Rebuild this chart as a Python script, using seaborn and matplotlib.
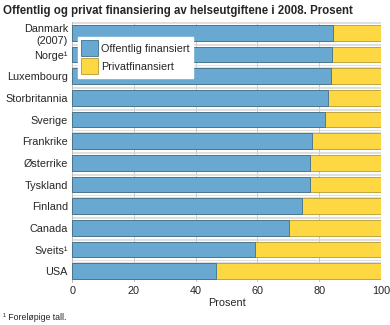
import matplotlib
matplotlib.use("Agg")
import matplotlib.pyplot as plt
import seaborn as sns
import pandas as pd

countries = ["Danmark\n(2007)", "Norge\u00b9", "Luxembourg", "Storbritannia", "Sverige",
             "Frankrike", "Østerrike", "Tyskland", "Finland", "Canada", "Sveits\u00b9", "USA"]
offentlig = [84.5, 84.2, 83.8, 82.7, 82.0, 77.8, 76.9, 76.9, 74.3, 70.1, 59.1, 46.5]
privat = [100 - v for v in offentlig]
xticks = [0, 20, 40, 60, 80, 100]

df = pd.DataFrame({"land": countries, "offentlig": offentlig, "privat": privat})
df["total"] = df["offentlig"] + df["privat"]

sns.set_theme(style="white")
plt.rcParams["font.family"] = ["Liberation Sans", "DejaVu Sans"]

fig = plt.figure(figsize=(3.9, 3.25), dpi=100)
ax = fig.add_axes([0.185, 0.132, 0.792, 0.8])

blue = "#69a9d1"
yellow = "#fdd842"
sns.barplot(data=df, y="land", x="total", color=yellow, orient="h", width=0.72, saturation=1,
            edgecolor="#b59a2e", linewidth=0.6, ax=ax, label="Privatfinansiert", zorder=3)
sns.barplot(data=df, y="land", x="offentlig", color=blue, orient="h", width=0.72, saturation=1,
            edgecolor="#3d6f90", linewidth=0.6, ax=ax, label="Offentlig finansiert", zorder=3)

ax.set_xlim(0, 100)
ax.set_ylim(len(countries) - 0.5, -0.5)
ax.set_xticks(xticks)
ax.set_xticklabels([str(t) for t in xticks], fontsize=7.8)
ax.tick_params(axis="y", labelsize=7.8, length=0, pad=3)
ax.tick_params(axis="x", length=0, pad=3)
ax.set_xlabel("Prosent", fontsize=7.8, labelpad=1)
ax.set_ylabel("")
for v in xticks[1:-1]:
    ax.axvline(v, color="#c8c8c8", lw=0.7, zorder=1)
for i in range(len(countries) + 1):
    ax.axhline(i - 0.5, color="#d9d9d9", lw=0.6, zorder=1)
    ax.axhline(i - 0.5 + 0.06, color="#d9d9d9", lw=0.6, zorder=1)
for s in ["top", "right"]:
    ax.spines[s].set_visible(False)
ax.spines["left"].set_color("#bbbbbb")
ax.spines["left"].set_linewidth(0.7)
ax.spines["bottom"].set_visible(False)

h, l = ax.get_legend_handles_labels()
order = [l.index("Offentlig finansiert"), l.index("Privatfinansiert")]
leg = ax.legend([h[i] for i in order], [l[i] for i in order], loc="upper left",
                bbox_to_anchor=(0.0, 0.965), fontsize=7.8, frameon=True, fancybox=False,
                edgecolor="white", framealpha=1, handlelength=1.5, handleheight=1.9,
                borderpad=0.35, labelspacing=0.15, handletextpad=0.3)
leg.set_zorder(5)

fig.text(0.008, 0.985, "Offentlig og privat finansiering av helseutgiftene i 2008. Prosent",
         fontsize=8.3, fontweight="bold", va="top", ha="left")
fig.text(0.008, 0.01, "\u00b9 Foreløpige tall.", fontsize=6.3, va="bottom", ha="left")

fig.savefig("out.png", dpi=100)
